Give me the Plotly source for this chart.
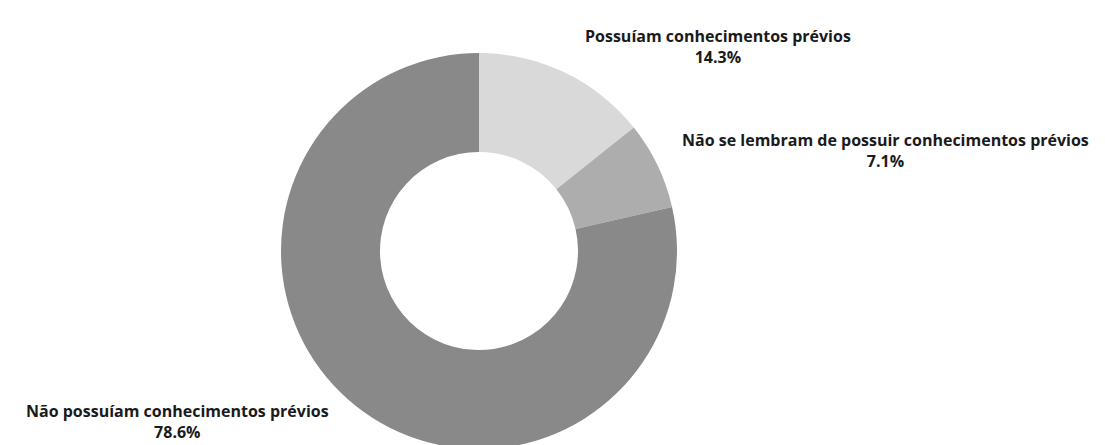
import plotly.graph_objects as go

labels = ["Possuíam conhecimentos prévios",
          "Não se lembram de possuir conhecimentos prévios",
          "Não possuíam conhecimentos prévios"]
values = [2, 1, 11]
colors = ["#d9d9d9", "#adadad", "#898989"]

W, H = 1105, 445
total = sum(values)
pcts = [v / total * 100 for v in values]

fig = go.Figure(go.Pie(
    labels=labels, values=values, hole=0.5, sort=False, direction="clockwise",
    rotation=0, marker=dict(colors=colors, line=dict(width=0)),
    textinfo="none", hoverinfo="label+percent", showlegend=False,
    domain=dict(x=[272 / W, 670 / W], y=[1 - 441 / H, 1 - 45 / H]),
))

label_pos = [(710, 38), (877, 143), (169, 413)]
for lab, p, (x, y) in zip(labels, pcts, label_pos):
    fig.add_annotation(
        text=f"<b>{lab}</b><br><b>{p:.1f}%</b>",
        x=x / W, y=1 - y / H, xref="paper", yref="paper",
        xanchor="center", yanchor="middle", showarrow=False,
        font=dict(family="Open Sans", size=16, color="#1a1a1a"),
        align="center",
    )

fig.update_layout(
    width=W, height=H, margin=dict(l=0, r=0, t=0, b=0),
    paper_bgcolor="white", plot_bgcolor="white",
)
fig.write_html("out.html")
